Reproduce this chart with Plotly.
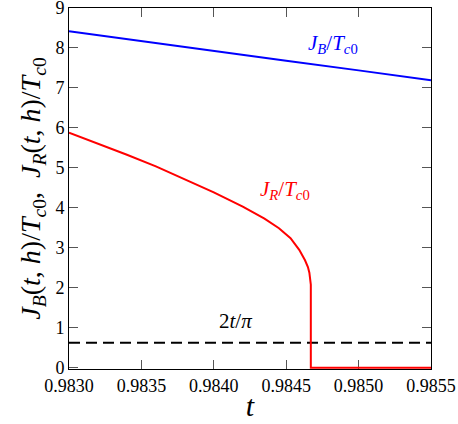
import plotly.graph_objects as go

# values
t_blue = [0.9830, 0.9835, 0.9840, 0.9845, 0.9850, 0.9855]
jb = [8.42, 8.17, 7.92, 7.68, 7.44, 7.19]

t_red = [0.98300, 0.98320, 0.98340, 0.98360, 0.98380, 0.98400, 0.98420,
         0.98435, 0.98445, 0.98453, 0.98459, 0.98463, 0.98465, 0.98466,
         0.98467, 0.98467, 0.98550]
jr = [5.88, 5.61, 5.33, 5.04, 4.72, 4.39, 4.03,
      3.73, 3.49, 3.24, 2.95, 2.69, 2.52, 2.38,
      2.08, 0.0, 0.0]

t_dash = [0.9830, 0.9855]
two_t_pi = [0.626, 0.627]

x_ticks = [0.9830, 0.9835, 0.9840, 0.9845, 0.9850, 0.9855]
y_ticks = list(range(0, 10))

FONT = "Liberation Serif, Times New Roman, serif"

fig = go.Figure()
fig.add_trace(go.Scatter(x=t_dash, y=two_t_pi, mode="lines",
                         line=dict(color="black", width=2, dash="11px,6px")))
fig.add_trace(go.Scatter(x=t_blue, y=jb, mode="lines",
                         line=dict(color="#0000ff", width=2)))
fig.add_trace(go.Scatter(x=t_red, y=jr, mode="lines",
                         line=dict(color="#ff0000", width=2)))

sub = lambda a, b: f"<i>{a}</i><sub>{b}</sub>"
jb_lbl = sub("J", "<i>B</i>") + "/" + sub("T", "<i>c</i>0")
jr_lbl = sub("J", "<i>R</i>") + "/" + sub("T", "<i>c</i>0")

fig.add_annotation(x=0.98482, y=8.11, text=jb_lbl, showarrow=False,
                   font=dict(color="#0000ff", size=21, family=FONT))
fig.add_annotation(x=0.98449, y=4.45, text=jr_lbl, showarrow=False,
                   font=dict(color="#ff0000", size=21, family=FONT))
fig.add_annotation(x=0.98415, y=1.17, text="2<i>t</i>/<i>π</i>", showarrow=False,
                   font=dict(color="black", size=21, family=FONT))

ytitle = (sub("J", "<i>B</i>") + "(<i>t</i>, <i>h</i>)/" + sub("T", "<i>c</i>0")
          + ",  " + sub("J", "<i>R</i>") + "(<i>t</i>, <i>h</i>)/" + sub("T", "<i>c</i>0"))

axis_common = dict(showgrid=False, zeroline=False, showline=True, linecolor="black",
                   linewidth=1, mirror="ticks", ticks="inside", ticklen=9,
                   tickcolor="#555", tickfont=dict(size=18, family=FONT, color="black"),
                   layer="below traces", automargin=False, ticklabeloverflow="allow")

fig.update_xaxes(range=[0.9830, 0.98550001], tickvals=x_ticks,
                 ticktext=[f"{v:.4f}" for v in x_ticks],
                 title=dict(text="<i>t</i>", font=dict(size=30, family=FONT), standoff=0),
                 **axis_common)
fig.update_yaxes(range=[-0.03, 9.0001], tickvals=y_ticks,
                 title=dict(text=ytitle, font=dict(size=28, family=FONT), standoff=6),
                 **axis_common)

fig.update_layout(width=458, height=424, showlegend=False,
                  margin=dict(l=69, r=27, t=8, b=55),
                  plot_bgcolor="white", paper_bgcolor="white",
                  font=dict(family=FONT, color="black"))

# page body has a default 8px margin; remove it so the figure fills the window
fig.write_html("out.html", config={"displayModeBar": False},
               post_script="document.body.style.margin='0';")
